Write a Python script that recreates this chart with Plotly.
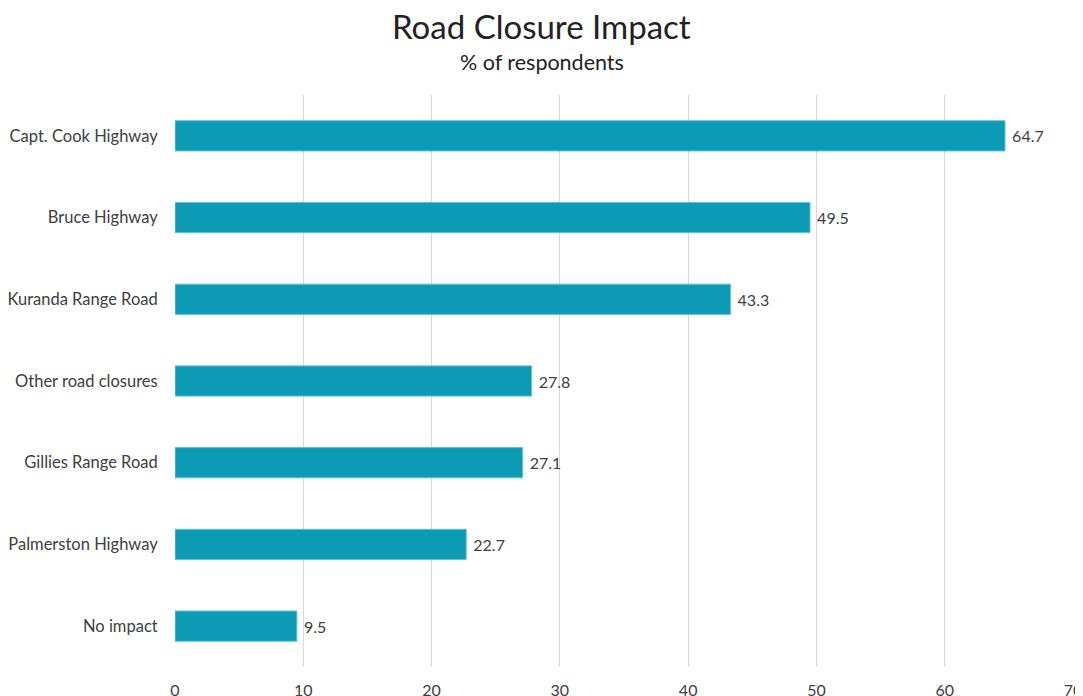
import plotly.graph_objects as go

roads = ['Capt. Cook Highway', 'Bruce Highway', 'Kuranda Range Road', 'Other road closures',
         'Gillies Range Road', 'Palmerston Highway', 'No impact']
pct = [64.7, 49.5, 43.3, 27.8, 27.1, 22.7, 9.5]
x_ticks = [0, 10, 20, 30, 40, 50, 60, 70]

# the page body keeps an 8px margin, so the figure is sized to fit inside it
W, H = 1075, 688
L, R, T, B = 167, 10, 87, 29

fig = go.Figure()
fig.add_trace(go.Bar(
    x=pct, y=roads, orientation='h',
    marker=dict(color='#0C9AB5', line=dict(color='#5FC3D6', width=1)),
    width=0.37,
    text=[' ' + str(v) for v in pct], textposition='outside',
    textfont=dict(size=16, color='#404040', family='Lato'),
    cliponaxis=False))

plot_h = H - T - B
plot_w = W - L - R
fig.update_layout(
    width=W, height=H,
    paper_bgcolor='white', plot_bgcolor='white',
    margin=dict(l=L, r=R, t=T, b=B),
    font=dict(family='Lato', color='#404040'),
    showlegend=False,
    annotations=[
        dict(text='Road Closure Impact', xref='paper', yref='paper',
             x=(1083 / 2 - 8 - L) / plot_w, y=1 + (T - 18) / plot_h, yanchor='middle',
             showarrow=False, font=dict(size=33, color='#222222', family='Lato')),
        dict(text='% of respondents', xref='paper', yref='paper',
             x=(1083 / 2 - 8 - L) / plot_w, y=1 + (T - 54) / plot_h, yanchor='middle',
             showarrow=False, font=dict(size=21.5, color='#222222', family='Lato')),
    ])

fig.update_xaxes(range=[0, 70], tickvals=x_ticks, showgrid=True, gridcolor='#D9D9D9',
                 gridwidth=1, zeroline=False, ticks='outside', ticklen=9, tickcolor='white',
                 tickfont=dict(size=16, color='#404040'), automargin=False)
fig.update_yaxes(categoryorder='array', categoryarray=roads[::-1], showgrid=False,
                 ticks='outside', ticklen=13, tickcolor='white',
                 tickfont=dict(size=16.5, color='#404040'), automargin=False)

fig.write_html("out.html")
